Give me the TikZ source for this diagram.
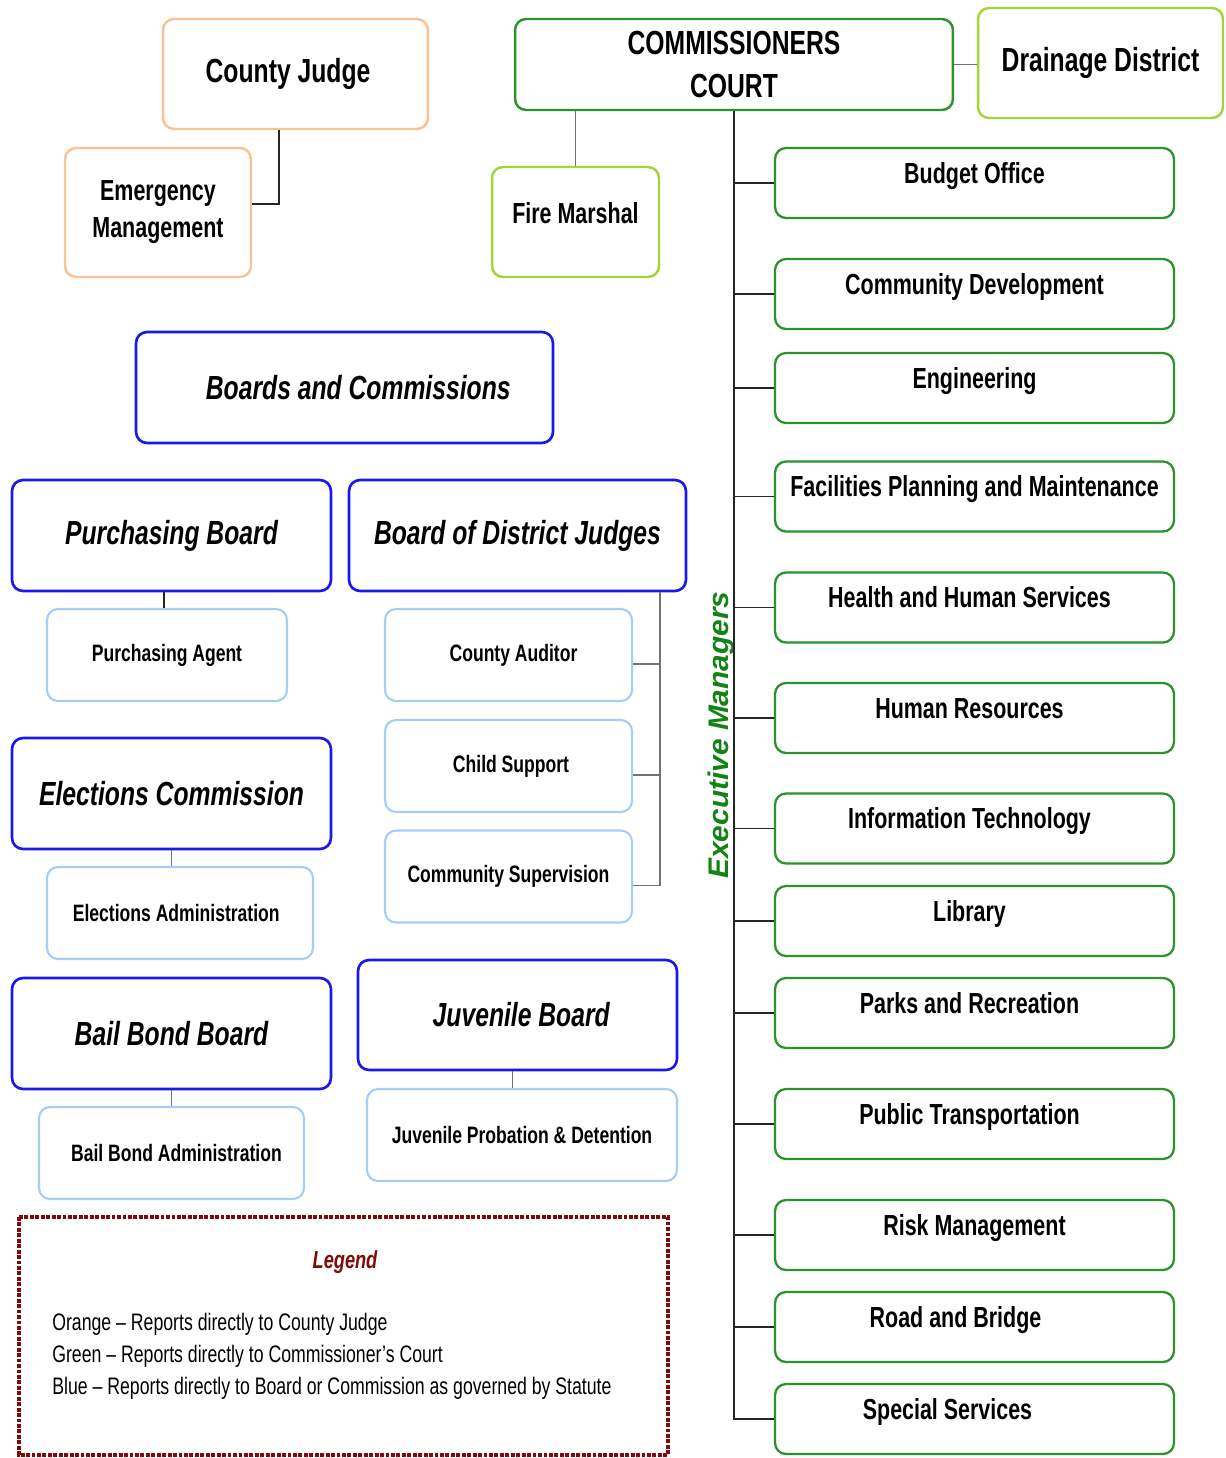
\documentclass[tikz,border=0pt]{standalone}
\usepackage{fontspec}
\usepackage{graphicx}
\setmainfont{Liberation Sans}[FakeStretch=0.74]
\newfontfamily\fullwidth{Liberation Sans}

\definecolor{judgeorange}{RGB}{250,195,150}
\definecolor{courtgreen}{RGB}{45,145,45}
\definecolor{limegreen}{RGB}{165,212,55}
\definecolor{boardblue}{RGB}{25,25,235}
\definecolor{deptblue}{RGB}{165,205,250}
\definecolor{legendred}{RGB}{128,10,10}
\definecolor{mgrgreen}{RGB}{20,130,20}

\begin{document}
\begin{tikzpicture}[x=0.02cm, y=-0.02cm,
  orgbox/.style={draw, rounded corners=0.22cm, align=center, fill=white, inner sep=2pt},
  judgebox/.style={orgbox, draw=judgeorange, line width=1.4pt},
  courtbox/.style={orgbox, draw=courtgreen, line width=1.4pt},
  limebox/.style={orgbox, draw=limegreen, line width=1.4pt},
  boardbox/.style={orgbox, draw=boardblue, line width=1.5pt,
    font=\bfseries\itshape\fontsize{19}{23}\selectfont, minimum height=2.22cm},
  deptbox/.style={orgbox, draw=deptblue, line width=1.2pt,
    font=\bfseries\fontsize{13.5}{16}\selectfont, minimum height=1.84cm},
  mgrbox/.style={orgbox, draw=courtgreen, line width=1.3pt,
    font=\bfseries\fontsize{16.5}{20}\selectfont,
    minimum width=7.98cm, minimum height=1.4cm,
    text height=0.4cm, text depth=0.4cm},
  bigtext/.style={font=\bfseries\fontsize{19}{25}\selectfont},
  midtext/.style={font=\bfseries\fontsize{16.5}{21}\selectfont},
  conn/.style={draw=black!85, line width=0.9pt},
  greyconn/.style={draw=black!55, line width=1pt},
  legendline/.style={draw=legendred, line width=2pt, dash pattern=on 2.2pt off 0.9pt}
]

  % Fix the page to the reference size
  \useasboundingbox (0,0) rectangle (1225,1458);

  % County Judge and the office under it
  \node[judgebox, bigtext, minimum width=5.3cm, minimum height=2.2cm] (judge) at (295.5,74) {County Judge\hspace*{0.3cm}};
  \node[judgebox, midtext, minimum width=3.72cm, minimum height=2.58cm] (emerg) at (158,212.5) {Emergency\\Management};

  % Commissioners Court with its direct offices
  \node[courtbox, bigtext, minimum width=8.76cm, minimum height=1.82cm] (court) at (734,64.5) {COMMISSIONERS\\COURT};
  \node[limebox, bigtext, minimum width=4.9cm, minimum height=2.2cm] (drain) at (1100.5,63) {Drainage District};
  \node[limebox, midtext, minimum width=3.34cm, minimum height=2.2cm, text depth=0.35cm] (fire) at (575.5,222) {Fire Marshal};

  % Boards and commissions
  \node[boardbox, minimum width=8.34cm] (boards) at (344.5,387.5) {\hspace*{0.55cm}Boards and Commissions};
  \node[boardbox, minimum width=6.38cm] (purch) at (171.5,535.5) {Purchasing Board};
  \node[boardbox, minimum width=6.74cm] (judges) at (517.5,535.5) {Board of District Judges};
  \node[boardbox, minimum width=6.38cm] (elect) at (171.5,793.5) {Elections Commission};
  \node[boardbox, minimum width=6.38cm] (bail) at (171.5,1033.5) {Bail Bond Board};
  \node[boardbox, minimum width=6.38cm, minimum height=2.2cm] (juven) at (517.5,1015) {\hspace*{0.15cm}Juvenile Board};

  % Offices reporting to a board
  \node[deptbox, minimum width=4.8cm] (agent) at (167,655) {Purchasing Agent};
  \node[deptbox, minimum width=4.94cm] (auditor) at (508.5,655) {\hspace*{0.2cm}County Auditor};
  \node[deptbox, minimum width=4.94cm] (child) at (508.5,766) {\hspace*{0.1cm}Child Support};
  \node[deptbox, minimum width=4.94cm] (supervision) at (508.5,876.5) {Community Supervision};
  \node[deptbox, minimum width=5.32cm] (electadm) at (180,913) {Elections Administration\hspace*{0.15cm}};
  \node[deptbox, minimum width=5.3cm] (bailadm) at (171.5,1153) {\hspace*{0.2cm}Bail Bond Administration};
  \node[deptbox, minimum width=6.2cm] (probation) at (522,1135) {Juvenile Probation \& Detention};

  % Executive managers under the court
  \node[mgrbox] (budget) at (974.5,183) {Budget Office};
  \node[mgrbox] (commdev) at (974.5,294) {Community Development};
  \node[mgrbox] (engineering) at (974.5,388) {Engineering};
  \node[mgrbox] (facilities) at (974.5,496.5) {Facilities Planning and Maintenance};
  \node[mgrbox] (health) at (974.5,607.5) {Health and Human Services\hspace*{0.2cm}};
  \node[mgrbox] (hr) at (974.5,718) {Human Resources\hspace*{0.2cm}};
  \node[mgrbox] (it) at (974.5,828.5) {Information Technology\hspace*{0.2cm}};
  \node[mgrbox] (library) at (974.5,921) {Library\hspace*{0.2cm}};
  \node[mgrbox] (parks) at (974.5,1013) {Parks and Recreation\hspace*{0.2cm}};
  \node[mgrbox] (transit) at (974.5,1124) {Public Transportation\hspace*{0.2cm}};
  \node[mgrbox] (risk) at (974.5,1235) {Risk Management};
  \node[mgrbox] (road) at (974.5,1327) {Road and Bridge\hspace*{0.76cm}};
  \node[mgrbox] (special) at (974.5,1419) {Special Services\hspace*{1.08cm}};

  \node[text=mgrgreen, font=\fullwidth\bfseries\itshape\fontsize{17}{20}\selectfont] (execmgr) at (721,735)
    {\scalebox{0.95}[1]{\rotatebox{90}{Executive Managers}}};

  % Connectors
  \draw[conn] ([xshift=-0.33cm]judge.south) |- ([yshift=0.17cm]emerg.east);
  \draw[greyconn] (court.east) -- (court.east -| drain.west);
  \draw[greyconn] (fire.north) -- (fire.north |- court.south);
  \draw[conn] (court.south) -- (court.south |- special.west) -- (special.west);
  \draw[conn] (court.south |- budget.west) -- (budget.west);
  \draw[conn] (court.south |- commdev.west) -- (commdev.west);
  \draw[conn] (court.south |- engineering.west) -- (engineering.west);
  \draw[conn] (court.south |- facilities.west) -- (facilities.west);
  \draw[conn] (court.south |- health.west) -- (health.west);
  \draw[conn] (court.south |- hr.west) -- (hr.west);
  \draw[conn] (court.south |- it.west) -- (it.west);
  \draw[conn] (court.south |- library.west) -- (library.west);
  \draw[conn] (court.south |- parks.west) -- (parks.west);
  \draw[conn] (court.south |- transit.west) -- (transit.west);
  \draw[conn] (court.south |- risk.west) -- (risk.west);
  \draw[conn] (court.south |- road.west) -- (road.west);

  \draw[conn] ([xshift=-0.15cm]purch.south) -- ([xshift=-0.15cm]purch.south |- agent.north);
  \draw[greyconn] (elect.south) -- (elect.south |- electadm.north);
  \draw[greyconn] (bail.south) -- (bail.south |- bailadm.north);
  \draw[greyconn] ([xshift=-0.1cm]juven.south) -- ([xshift=-0.1cm]juven.south |- probation.north);

  \coordinate (judgestap) at ([xshift=2.85cm]judges.south);
  \draw[greyconn] (judgestap) |- ([yshift=-0.18cm]supervision.east);
  \draw[greyconn] (judgestap |- auditor.east) ++(0,9) -- ([yshift=-0.18cm]auditor.east);
  \draw[greyconn] (judgestap |- child.east) ++(0,9) -- ([yshift=-0.18cm]child.east);

  % Legend
  \draw[legendline] (19,1217) rectangle (668,1455);
  \node[text=legendred, font=\bfseries\itshape\fontsize{14}{17}\selectfont] (legendtitle) at (345,1262) {Legend};
  \node[anchor=west, align=left, inner sep=0pt, font=\fontsize{13.6}{18.2}\selectfont] (legendtext) at (52,1356)
    {Orange -- Reports directly to County Judge\\
     Green -- Reports directly to Commissioner's Court\\
     Blue -- Reports directly to Board or Commission as governed by Statute};

\end{tikzpicture}
\end{document}
